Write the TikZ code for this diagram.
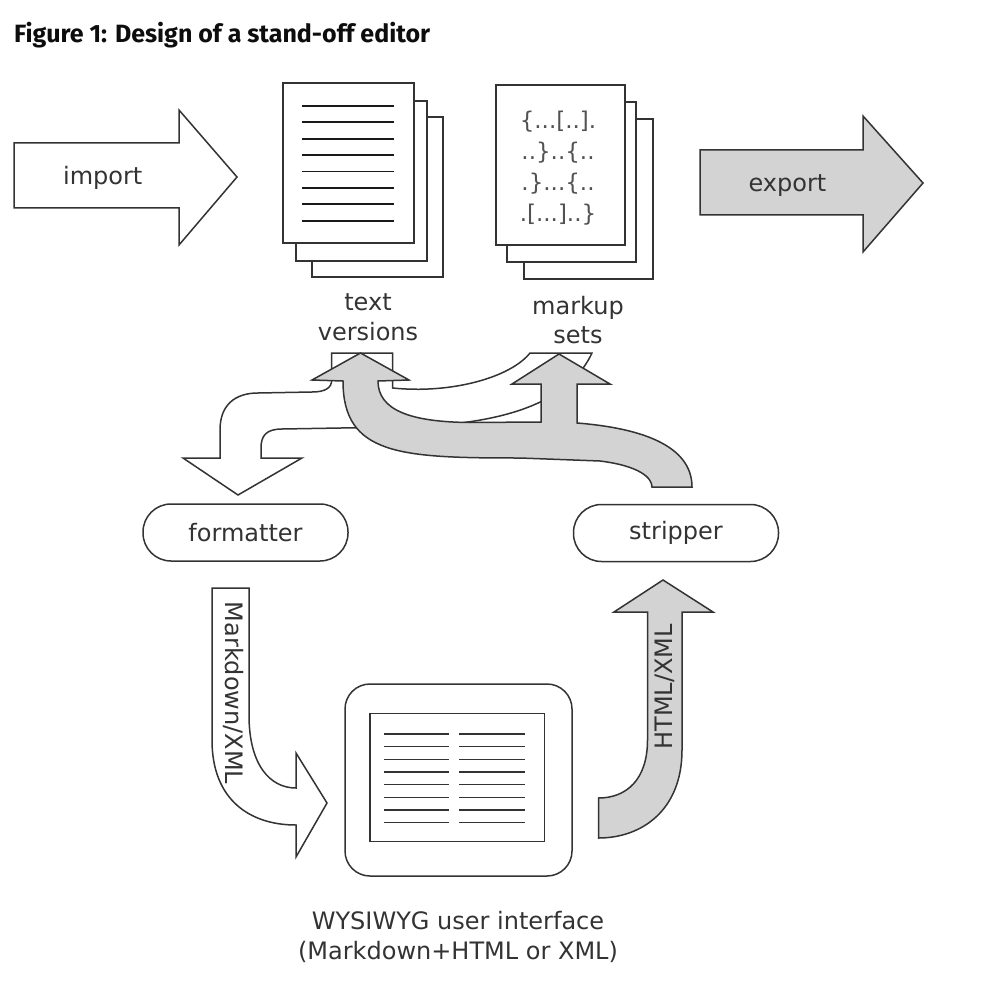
\documentclass[tikz,border=0pt]{standalone}
\usepackage{fontspec}
\newfontfamily\dejavu{DejaVu Sans}
\newfontfamily\titlefont{Fira Sans}
\definecolor{shade}{HTML}{D3D3D3}
\definecolor{ink}{HTML}{333333}
\tikzset{
  outline/.style={draw=ink, line width=1.5pt, line join=miter},
  plain/.style={outline, fill=white},
  shaded/.style={outline, fill=shade},
  lbl/.style={font=\dejavu\fontsize{24}{29.5}\selectfont, text=ink, align=center},
  pill/.style={plain, rounded corners=28pt, minimum width=205pt, minimum height=57pt}
}
\begin{document}
\begin{tikzpicture}[x=1pt,y=-1pt]
\tikzstyle{every node}+=[inner sep=0pt]
\useasboundingbox (0,0) rectangle (980,984);
% title
\node[anchor=base west, font=\titlefont\bfseries\fontsize{25}{29}\selectfont, text=black!95] (title) at (14,43) {Figure 1: Design of a stand-off editor};
% import and export
\draw[plain] (14,143) -- (179,143) -- (179,110) -- (237,177) -- (179,245) -- (179,208) -- (14,208) -- cycle;
\node[lbl, anchor=base] (import) at (102.7,185) {import};
\draw[shaded] (700,150) -- (863,150) -- (863,116) -- (923,183) -- (863,252) -- (863,215) -- (700,215) -- cycle;
\node[lbl, anchor=base] (export) at (787.5,192) {export};
% page stacks
\foreach \dx/\dy in {29/34,13/18,0/0}
  \draw[plain] (283+\dx,83+\dy) rectangle +(131,160);
\foreach \dx/\dy in {28/34,11/17,0/0}
  \draw[plain] (496+\dx,85+\dy) rectangle +(129,160);
\foreach \i in {0,...,7}
  \draw[black!90, line width=1.8pt] (302,106+16.4*\i) -- (394,106+16.4*\i);
\node[lbl, font=\dejavu\fontsize{23}{31}\selectfont, text=ink!85] (markup) at (558,168) {\{...[..].\\..\}..\{..\\.\}...\{..\\.[...]..\}};
\node[lbl] (versions) at (368,317) {text\\versions};
\node[lbl] (sets) at (578,320) {markup\\sets};
% back to the formatter
\draw[plain] (238,495) -- (183,458) -- (220,458) -- (220,430)
  .. controls (220,405) and (235,393) .. (258,393) -- (312,392)
  .. controls (325,392) and (331.7,388) .. (331.7,380) -- (331.7,353) -- (392.7,353) -- (392.7,388)
  .. controls (450,394) and (510,378) .. (530,353) -- (592,353)
  .. controls (570,400) and (510,425) .. (400,427) -- (282,429)
  .. controls (266,429) and (261,436) .. (261,448) -- (261,458) -- (302,458) -- cycle;
% from the stripper
\draw[shaded] (692,487) .. controls (692,445) and (640,428) .. (577,423) -- (577,384) -- (610,384)
  -- (559,354) -- (512,384) -- (541,384) -- (541,422) -- (470,422.5)
  .. controls (410,422) and (378,410) .. (378,381) -- (409,380) -- (360.5,353) -- (312,380) -- (343,381)
  .. controls (343,455) and (400,458) .. (520,458) -- (600,461)
  .. controls (640,466) and (652,478) .. (652,487) -- cycle;
\node[pill, lbl] (formatter) at (245.5,532.5) {formatter};
\node[pill, lbl] (stripper) at (676,533) {stripper};
% editor
\draw[plain] (212,588) -- (249,588) -- (249,715) .. controls (249,765) and (270,788) .. (296,788)
  -- (296,753) -- (327,803) -- (296,857) -- (296,825) .. controls (250,825) and (212,800) .. (212,740) -- cycle;
\node[lbl, rotate=-90] (mdxml) at (233.5,693) {Markdown/XML};
\draw[shaded] (598.5,798) .. controls (626,798) and (647.5,780) .. (647.5,740) -- (647.5,612) -- (614,612)
  -- (663,580) -- (713,612) -- (682,612) -- (682,750) .. controls (682,810) and (642,838) .. (598.5,838) -- cycle;
\node[lbl, rotate=90] (htmlxml) at (665,687) {HTML/XML};
\node[plain, rounded corners=25pt, minimum width=227pt, minimum height=192pt] (ui) at (458.5,780) {};
\node[plain, minimum width=174.7pt, minimum height=128.4pt] (screen) at (457.3,777.5) {};
\foreach \i in {0,...,7} {
  \draw[ink, line width=1.5pt] (384,734+12.67*\i) -- (449.4,734+12.67*\i);
  \draw[ink, line width=1.5pt] (459.2,734+12.67*\i) -- (524.6,734+12.67*\i);
}
\node[lbl] (uitext) at (458,937) {WYSIWYG user interface\\(Markdown+HTML or XML)};
\end{tikzpicture}
\end{document}
